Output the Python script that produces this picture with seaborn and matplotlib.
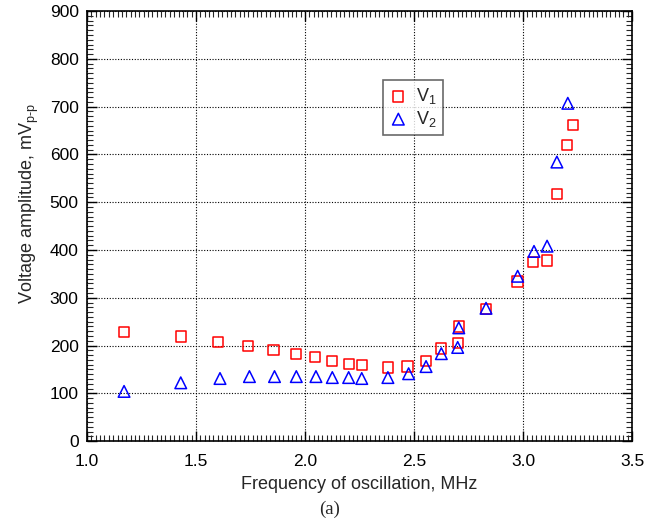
import pandas as pd
import matplotlib.pyplot as plt
import seaborn as sns
from matplotlib.ticker import MultipleLocator

# Data
v1_freq = [1.17, 1.43, 1.60, 1.74, 1.855, 1.96, 2.045, 2.125, 2.20, 2.26, 2.38, 2.47,
           2.555, 2.625, 2.70, 2.705, 2.83, 2.975, 3.045, 3.11, 3.155, 3.20, 3.23]
v1_amp = [228, 219, 208, 199, 190, 182, 176, 168, 162, 159, 154, 156,
          168, 194, 205, 240, 276, 334, 375, 378, 517, 620, 661]

v2_freq = [1.17, 1.43, 1.61, 1.745, 1.86, 1.96, 2.05, 2.125, 2.20, 2.26, 2.38, 2.475,
           2.555, 2.625, 2.70, 2.705, 2.83, 2.975, 3.05, 3.11, 3.155, 3.205]
v2_amp = [104, 122, 131, 135, 135, 135, 135, 133, 133, 131, 133, 141,
          156, 183, 196, 237, 278, 345, 397, 408, 584, 707]

df1 = pd.DataFrame({'freq': v1_freq, 'amp': v1_amp})
df2 = pd.DataFrame({'freq': v2_freq, 'amp': v2_amp})

sns.set_style("ticks")
plt.rcParams['font.family'] = ['Liberation Sans', 'DejaVu Sans']
plt.rcParams['mathtext.fontset'] = 'custom'
plt.rcParams['mathtext.rm'] = 'Liberation Sans'
plt.rcParams['mathtext.it'] = 'Liberation Sans'

fig = plt.figure(figsize=(6.64, 5.27), dpi=100)
ax = fig.add_axes([0.131, 0.163, 0.821, 0.816])

sns.scatterplot(data=df1, x='freq', y='amp', ax=ax, marker='s', s=55,
                facecolor='none', edgecolor='#ff0000', linewidth=1.1,
                label=r'V$_\mathregular{1}$', zorder=3)
sns.scatterplot(data=df2, x='freq', y='amp', ax=ax, marker='^', s=70,
                facecolor='none', edgecolor='#0000ff', linewidth=1.1,
                label=r'V$_\mathregular{2}$', zorder=4)

ax.set_xlim(1.0, 3.5)
ax.set_ylim(0, 900)
ax.xaxis.set_major_locator(MultipleLocator(0.5))
ax.xaxis.set_minor_locator(MultipleLocator(0.02))
ax.yaxis.set_major_locator(MultipleLocator(100))
ax.yaxis.set_minor_locator(MultipleLocator(10))
ax.xaxis.set_major_formatter(plt.FuncFormatter(lambda v, p: f"{v:.1f}"))

ax.grid(True, which='major', color='black', linestyle=(0, (1, 1.5)), linewidth=0.8)
ax.tick_params(which='major', direction='in', length=7, width=1,
               top=True, right=True, labelsize=12.5, colors='black')
ax.tick_params(axis='x', which='major', pad=9)
ax.tick_params(axis='y', which='major', pad=6)
ax.tick_params(which='minor', direction='in', length=4, width=0.8,
               top=True, right=True)
for sp in ax.spines.values():
    sp.set_color('black')
    sp.set_linewidth(1.2)

ax.set_xlabel("Frequency of oscillation, MHz", fontsize=13)
ax.set_ylabel(r"Voltage amplitude, mV$_\text{p-p}$", fontsize=13)
ax.xaxis.set_label_coords(0.5, -0.082)
ax.yaxis.set_label_coords(-0.085, 0.553)

leg = ax.legend(loc='upper left', bbox_to_anchor=(0.543, 0.84), fontsize=13,
                frameon=True, fancybox=False, edgecolor='#444444',
                handletextpad=0.5, borderpad=0.35, labelspacing=0.15,
                handlelength=1.0, borderaxespad=0)
leg.get_frame().set_linewidth(1.2)

fig.text(0.497, 0.034, "(a)", fontsize=13.5, family='Liberation Serif',
         ha='center', va='center')

plt.savefig("out.png", dpi=100)
plt.close()
